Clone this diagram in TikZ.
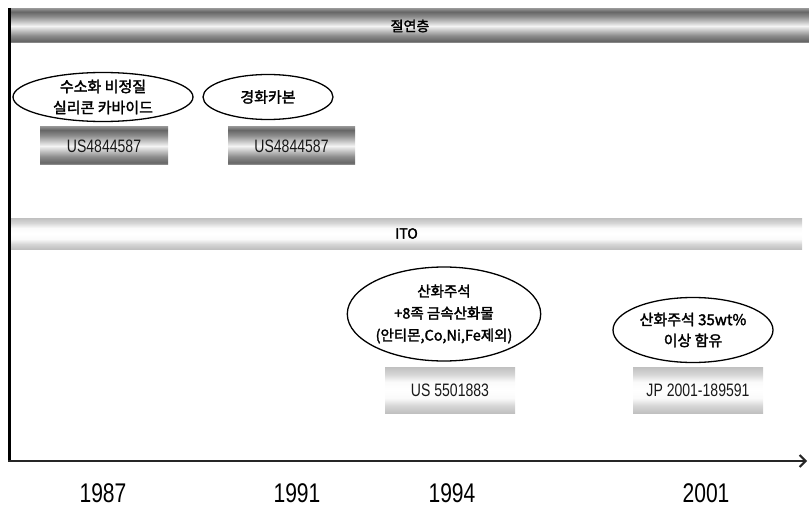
\documentclass[tikz,border=0pt]{standalone}
\usepackage{fontspec}
\usetikzlibrary{shapes.geometric,arrows.meta}
\newfontfamily\kr[FakeBold=2]{Noto Sans CJK KR}
\newfontfamily\nar[FakeStretch=0.78]{Liberation Sans}
\definecolor{dA}{HTML}{A5A5A5}
\definecolor{dB}{HTML}{666666}
\definecolor{dC}{HTML}{8C8C8C}
\definecolor{dD}{HTML}{F4F4F4}
\definecolor{lA}{HTML}{C0C0C0}
\definecolor{lB}{HTML}{D6D6D6}
\definecolor{lC}{HTML}{FAFAFA}
\pgfdeclareverticalshading{darkband}{100bp}{color(0bp)=(dA); color(25bp)=(dA); color(28bp)=(dB); color(36bp)=(dC); color(50bp)=(dD); color(64bp)=(dC); color(71bp)=(dB); color(75bp)=(dC); color(100bp)=(dC)}
\pgfdeclareverticalshading{lightband}{100bp}{color(0bp)=(lA); color(25bp)=(lA); color(33bp)=(lB); color(41bp)=(lC); color(50bp)=(white); color(59bp)=(lC); color(67bp)=(lB); color(75bp)=(lA); color(100bp)=(lA)}
\begin{document}
\begin{tikzpicture}[x=1pt,y=-1pt,
  darkbar/.style={rectangle, shading=darkband, inner sep=0pt, outer sep=0pt},
  lightbar/.style={rectangle, shading=lightband, inner sep=0pt, outer sep=0pt},
  bandtext/.style={font=\kr\fontsize{14}{16}\selectfont, text=black},
  oval/.style={ellipse, draw=black, line width=1.3pt, fill=white, inner sep=0pt, align=center, font=\kr\fontsize{15}{21}\selectfont},
  patbox/.style={font=\nar\fontsize{18}{18}\selectfont, text=black!90, minimum height=38pt, minimum width=128pt},
  year/.style={font=\nar\fontsize{27}{27}\selectfont, text=black, inner sep=0pt}]
\useasboundingbox (0,0) rectangle (809,508);
% bands
\node[darkbar, bandtext, minimum width=798pt, minimum height=34pt] (ins) at (410,26) {절연층};
\node[lightbar, bandtext, minimum width=791pt, minimum height=31pt] (ito) at (406.5,233.5) {ITO};
% axes
\coordinate (top) at (9.5,8);
\coordinate (o) at (9.5,461);
\coordinate (end) at (807,461);
\draw[line width=3pt] (top) -- (o);
\draw[line width=2.5pt, black!85, -{Straight Barb[length=6pt,width=12pt,line width=2pt]}] (8,461) -- (end);
% ovals
\node[oval, minimum width=180pt, minimum height=49pt] (e1) at (103,97) {수소화 비정질\\실리콘 카바이드};
\node[oval, minimum width=130pt, minimum height=45pt] (e2) at (268,97) {경화카본};
\node[oval, minimum width=167pt, minimum height=94pt, font=\kr\fontsize{14.5}{22}\selectfont] (e3) at (444,314) {산화주석\\+8족 금속산화물\\(안티몬,Co,Ni,Fe제외)};
\node[oval, minimum width=160pt, minimum height=65pt] (e4) at (693,330) {산화주석 35wt\%\\이상 함유};
% patent boxes
\node[darkbar, patbox] (b1) at (104,146) {US4844587};
\node[darkbar, patbox, minimum width=127pt] (b2) at (291.5,146) {US4844587};
\node[lightbar, patbox, minimum width=130pt, minimum height=46pt] (b3) at (450,390) {US 5501883};
\node[lightbar, patbox, minimum width=130pt, minimum height=46pt] (b4) at (698,390) {JP 2001-189591};
% years
\node[year] (y1) at (103,493) {1987};
\node[year] (y2) at (297,493) {1991};
\node[year] (y3) at (452,493) {1994};
\node[year] (y4) at (706,493) {2001};
\end{tikzpicture}
\end{document}
